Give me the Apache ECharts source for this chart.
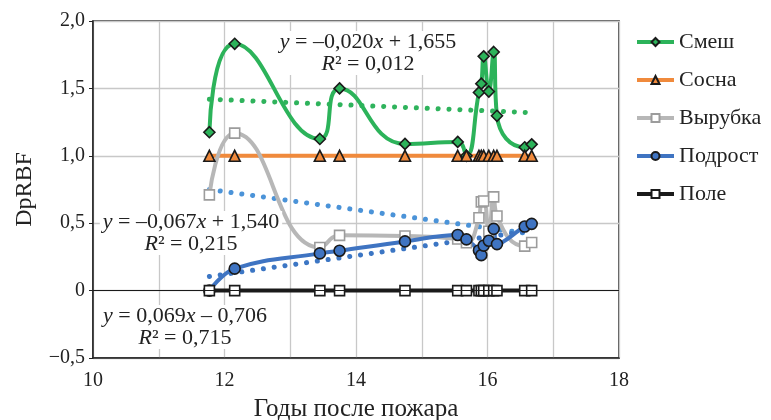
<!DOCTYPE html>
<html>
<head>
<meta charset="utf-8">
<script src="https://cdn.jsdelivr.net/npm/echarts@6/dist/echarts.min.js"></script>
<style>
  html, body { margin: 0; padding: 0; background: #fff; }
  #chart { width: 771px; height: 420px; }
</style>
</head>
<body>
<div id="chart"></div>
<script>
// годы после пожара (общие для всех рядов)
const years = [11.77, 12.155, 13.45, 13.75, 14.745, 15.547, 15.68, 15.87, 15.906, 15.942, 16.02, 16.094, 16.144, 16.566, 16.672];

const smesh   = [1.175, 1.831, 1.125, 1.50, 1.088, 1.103, 1.0, 1.47, 1.535, 1.738, 1.477, 1.77, 1.297, 1.063, 1.085];
const sosna   = [1, 1, 1, 1, 1, 1, 1, 1, 1, 1, 1, 1, 1, 1, 1];
const vyrubka = [0.71, 1.168, 0.32, 0.41, 0.405, 0.383, 0.355, 0.54, 0.658, 0.665, 0.44, 0.695, 0.553, 0.33, 0.357];
const podrost = [0, 0.163, 0.276, 0.296, 0.365, 0.413, 0.38, 0.298, 0.263, 0.334, 0.37, 0.458, 0.345, 0.475, 0.495];
const pole    = [0, 0, 0, 0, 0, 0, 0, 0, 0, 0, 0, 0, 0, 0, 0];

// линии тренда (концы)
const smeshTrend   = [[11.77, 1.42], [16.67, 1.32]];
const vyrubkaTrend = [[11.77, 0.75], [16.67, 0.42]];
const podrostTrend = [[11.77, 0.105], [16.67, 0.445]];

const xTickLabels = { 10: '10', 12: '12', 14: '14', 16: '16', 18: '18' };
const yTickLabels = { '-0.5': '−0,5', '0': '0', '0.5': '0,5', '1': '1,0', '1.5': '1,5', '2': '2,0' };

const FONT = 'Liberation Serif';

const pairs = (vals) => years.map((x, i) => [x, vals[i]]);

const chart = echarts.init(document.getElementById('chart'));

const lineSeries = (name, vals, color, symbol, size, fill, border, smooth) => ({
  name: name,
  type: 'line',
  data: pairs(vals),
  smooth: smooth,
  symbol: symbol,
  symbolSize: size,
  showAllSymbol: true,
  lineStyle: { color: color, width: 4 },
  itemStyle: { color: fill, borderColor: border, borderWidth: 1.6 },
  emphasis: { disabled: true },
  animation: false
});

const trendSeries = (data, color) => ({
  type: 'line',
  data: data,
  symbol: 'none',
  lineStyle: { color: color, width: 5, type: [0.1, 10.8], cap: 'round' },
  emphasis: { disabled: true },
  animation: false
});

const eq = (x, y, line1, line2) => ({
  type: 'text',
  x: x, y: y,
  z: 100,
  style: {
    text: line1 + '\n' + line2,
    font: '22px "' + FONT + '"',
    fill: '#222',
    align: 'center',
    verticalAlign: 'middle',
    lineHeight: 22,
    backgroundColor: '#fff',
    padding: [0, 3],
    rich: {
      i: { fontStyle: 'italic', fontSize: 22, fontFamily: FONT, lineHeight: 22 }
    }
  }
});

const option = {
  backgroundColor: '#fff',
  animation: false,
  grid: {
    left: 93, top: 21, width: 526, height: 337,
    outerBoundsMode: 'none',
    containLabel: false,
    show: true, borderColor: '#222', borderWidth: 1.5
  },
  legend: {
    data: ['Смеш', 'Сосна', 'Вырубка', 'Подрост', 'Поле'],
    orient: 'vertical',
    left: 630, top: 26,
    itemWidth: 37, itemHeight: 10, itemGap: 16,
    lineStyle: { width: 4 },
    textStyle: { fontFamily: FONT, fontSize: 22, color: '#222', lineHeight: 22 }
  },
  xAxis: {
    type: 'value',
    min: 10, max: 18, interval: 1,
    name: 'Годы после пожара',
    nameLocation: 'middle',
    nameGap: 39,
    nameTextStyle: { fontFamily: FONT, fontSize: 25, color: '#222' },
    axisLine: { onZero: false, lineStyle: { color: '#222', width: 1.5 } },
    axisTick: { show: false },
    axisLabel: {
      fontFamily: FONT, fontSize: 20, color: '#222', margin: 13,
      formatter: (v) => xTickLabels[v] || ''
    },
    splitLine: { show: true, lineStyle: { color: '#c8c8c8', width: 1.3 } }
  },
  yAxis: {
    type: 'value',
    min: -0.5, max: 2, interval: 0.5,
    name: 'DpRBF',
    nameLocation: 'middle',
    nameGap: 56,
    nameTextStyle: { fontFamily: FONT, fontSize: 24, color: '#222' },
    axisLine: { show: true, lineStyle: { color: '#222', width: 1.5 } },
    axisTick: { show: true, length: 4, lineStyle: { color: '#222' } },
    axisLabel: {
      fontFamily: FONT, fontSize: 20, color: '#222', margin: 8,
      formatter: (v) => yTickLabels[String(v)] || ''
    },
    splitLine: { show: true, lineStyle: { color: '#c8c8c8', width: 1.3 } }
  },
  series: [
    trendSeries(smeshTrend, '#2fb35c'),
    trendSeries(vyrubkaTrend, '#4b93d8'),
    trendSeries(podrostTrend, '#3c76c4'),
    lineSeries('Смеш', smesh, '#2cb35a', 'diamond', 11, '#2cb35a', '#1a1a1a', 0.5),
    lineSeries('Сосна', sosna, '#f08a3c', 'triangle', 11, '#f08a3c', '#1a1a1a', false),
    lineSeries('Вырубка', vyrubka, '#b7b7b7', 'rect', 10, '#ffffff', '#9c9c9c', 0.5),
    lineSeries('Подрост', podrost, '#3f74c2', 'circle', 11, '#3f74c2', '#1a1a1a', 0.4),
    Object.assign(lineSeries('Поле', pole, '#1a1a1a', 'rect', 10, '#ffffff', '#1a1a1a', false), {
      markLine: {
        silent: true,
        symbol: 'none',
        label: { show: false },
        lineStyle: { color: '#1a1a1a', width: 1.2, type: 'solid' },
        data: [{ yAxis: 0 }],
        animation: false
      }
    })
  ],
  graphic: [
    eq(368, 53, '{i|y} = –0,020{i|x} + 1,655', '{i|R}² = 0,012'),
    eq(191, 233, '{i|y} = –0,067{i|x} + 1,540', '{i|R}² = 0,215'),
    eq(185, 327, '{i|y} = 0,069{i|x} – 0,706', '{i|R}² = 0,715')
  ]
};

chart.setOption(option);
</script>
</body>
</html>
